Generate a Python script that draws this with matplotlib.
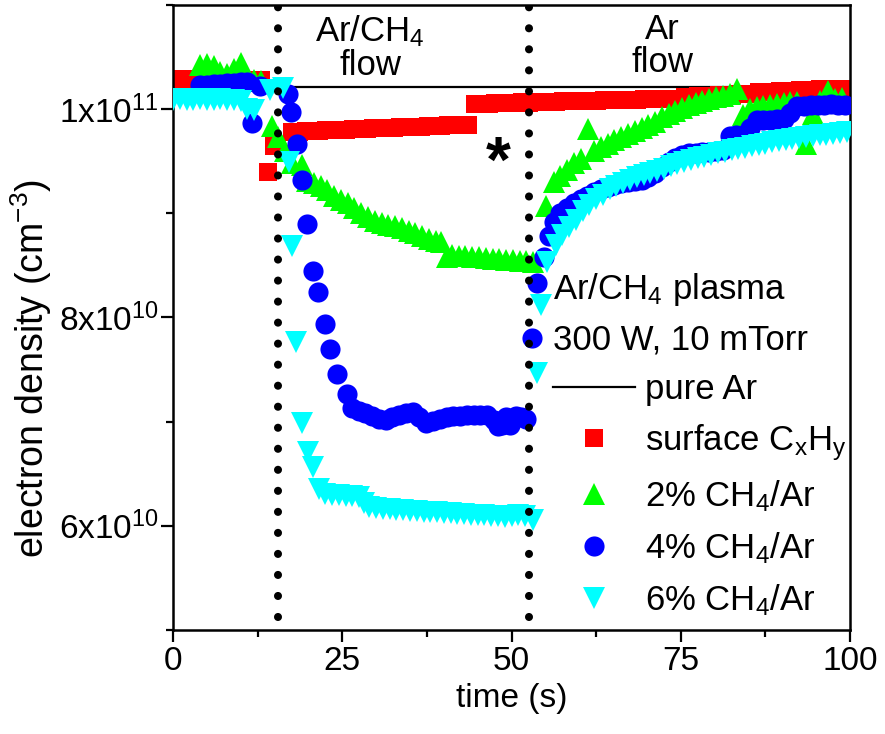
import numpy as np
import matplotlib as mpl
mpl.use('Agg')
import matplotlib.pyplot as plt
from matplotlib.lines import Line2D
from matplotlib.ticker import MultipleLocator, FuncFormatter

plt.rcParams['font.family'] = 'Liberation Sans'
plt.rcParams['mathtext.fontset'] = 'custom'
plt.rcParams['mathtext.rm'] = 'Liberation Sans'
plt.rcParams['mathtext.it'] = 'Liberation Sans'
plt.rcParams['mathtext.default'] = 'regular'

# electron density in units of 1e10 cm^-3, time in s
red_t = [0, 1, 2, 3, 4, 5, 6, 7, 8, 9, 10, 11, 12, 13, 14.0, 14.9,
         17.6, 18.6, 19.6, 20.6, 21.6, 22.6, 23.6, 24.6, 25.6, 26.6, 27.6, 28.6, 29.6, 30.6,
         31.6, 32.6, 33.6, 34.6, 35.6, 36.6, 37.6, 38.6, 39.6, 40.6, 41.6, 42.6, 43.6,
         44.6, 45.6, 46.6, 47.6, 48.6, 49.6, 50.6, 51.6, 52.6, 53.6, 54.6, 55.6, 56.6, 57.6,
         58.6, 59.6, 60.6, 61.6, 62.6, 63.6, 64.6, 65.6, 66.6, 67.6, 68.6, 69.6, 70.6, 71.6,
         72.6, 73.6, 74.6,
         75.6, 76.6, 77.6, 78.6, 79.6, 80.6, 81.6, 82.6, 83.6, 84.6, 85.6, 86.6, 87.6, 88.6,
         89.6, 90.6, 91.6, 92.6, 93.6, 94.6, 95.6, 96.6, 97.6, 98.6]
red_n = [10.29, 10.28, 10.29, 10.28, 10.28, 10.29, 10.28, 10.28, 10.27, 10.28, 10.28, 10.27, 10.28, 10.28,
         9.40, 9.65,
         9.78, 9.78, 9.79, 9.79, 9.79, 9.80, 9.80, 9.80, 9.80, 9.81, 9.81, 9.81, 9.82, 9.82,
         9.82, 9.82, 9.83, 9.83, 9.83, 9.83, 9.84, 9.84, 9.84, 9.85, 9.85, 9.85, 9.85,
         10.05, 10.05, 10.05, 10.06, 10.06, 10.06, 10.06, 10.07, 10.06, 10.07, 10.07, 10.07, 10.07, 10.08,
         10.08, 10.08, 10.08, 10.08, 10.08, 10.09, 10.09, 10.09, 10.09, 10.09, 10.09, 10.10, 10.10, 10.10,
         10.10, 10.10, 10.10,
         10.12, 10.12, 10.13, 10.13, 10.13, 10.14, 10.14, 10.14, 10.15, 10.15, 10.15, 10.16, 10.16, 10.16,
         10.17, 10.17, 10.17, 10.18, 10.18, 10.18, 10.19, 10.19, 10.19, 10.19]

green_t = [4, 5, 6, 7, 8, 9, 10, 11, 12, 13, 14.6, 15.5, 16.5, 17.6, 19.0, 19.8, 20.8, 21.8, 22.8,
           23.8, 24.8, 25.8, 26.8, 27.8, 28.8, 29.8, 30.8, 31.8, 32.8, 33.8, 34.8, 35.8, 36.8,
           37.8, 38.8, 39.6, 40.4, 41.2, 42.2, 43.2, 44.2, 45.2, 46.2, 47.2, 48.2, 49.2, 50.2,
           51.2, 52.2, 53.2, 55.1, 56.3, 57.2, 58.2, 59.2, 60.2, 61.3, 62.2, 63.2, 64.2, 65.2,
           66.2, 67.2, 68.2, 69.2, 70.2, 71.2, 72.2, 73.2, 74.2, 75.2, 76.2, 77.2, 78.2, 79.2,
           80.2, 81.2, 82.2, 83.3, 84.2, 85.2, 86.2, 87.2, 88.2, 89.2, 90.2, 91.2, 92.2, 93.5,
           94.5, 95.5, 96.8, 97.8, 98.8]
green_n = [10.42, 10.43, 10.41, 10.36, 10.34, 10.39, 10.44, 10.30, 10.28, 10.27, 9.84, 9.73, 9.60,
           9.48, 9.46, 9.31, 9.29, 9.26, 9.22, 9.17, 9.13, 9.10, 9.05, 9.00, 8.96, 8.93, 8.91,
           8.89, 8.88, 8.86, 8.83, 8.81, 8.78, 8.75, 8.73, 8.72, 8.58, 8.60, 8.59, 8.59, 8.58,
           8.58, 8.57, 8.56, 8.56, 8.55, 8.55, 8.54, 8.54, 8.53, 9.07, 9.30, 9.36, 9.42, 9.48,
           9.52, 9.81, 9.60, 9.64, 9.67, 9.70, 9.73, 9.76, 9.79, 9.82, 9.85, 9.88, 9.92, 9.95,
           9.98, 10.01, 10.04, 10.06, 10.08, 10.10, 10.12, 10.13, 10.15, 10.19, 9.94, 10.00,
           10.02, 10.03, 10.04, 10.05, 10.06, 10.07, 10.07, 9.67, 9.95, 10.08, 10.17, 10.10, 10.11]

blue_t = [4, 5, 6, 7, 8, 9, 10, 11, 11.7, 12.9, 17.0, 17.4, 18.3, 19.1, 19.8, 20.7, 21.4, 22.5,
          23.2, 24.2, 25.7, 26.4, 27.4, 28.4, 29.4, 30.4, 31.4, 32.4, 33.4, 34.4, 35.4, 36.4,
          37.4, 38.4, 39.4, 40.4, 41.4, 42.4, 43.4, 44.4, 45.4, 46.4, 47.4, 48.0, 48.6, 49.2,
          49.8, 50.6, 51.4, 52.2, 53.0, 53.8, 54.8, 55.5, 56.3, 57.2, 58.2, 59.2, 60.2, 61.2,
          62.2, 63.2, 64.2, 65.2, 66.2, 67.2, 68.2, 69.2, 70.2, 71.2, 72.2, 73.2, 74.2, 75.2,
          76.2, 77.2, 78.2, 79.2, 80.2, 81.2, 82.2, 83.2, 84.2, 85.2, 86.2, 87.2, 88.2, 89.2,
          90.2, 91.2, 92.2, 93.2, 94.2, 95.2, 96.2, 97.2, 98.2, 99.2]
blue_n = [10.23, 10.23, 10.24, 10.24, 10.25, 10.25, 10.26, 10.26, 9.87, 10.22, 10.15, 9.97, 9.67,
          9.32, 8.90, 8.45, 8.24, 7.94, 7.70, 7.46, 7.27, 7.13, 7.10, 7.08, 7.05, 7.03, 7.02,
          7.04, 7.06, 7.08, 7.09, 7.04, 6.99, 7.01, 7.03, 7.04, 7.05, 7.05, 7.06, 7.06, 7.06,
          7.06, 7.02, 6.96, 6.97, 7.04, 6.97, 7.05, 7.04, 7.03, 7.80, 8.33, 8.58, 8.78, 8.92,
          9.00, 9.05, 9.10, 9.14, 9.17, 9.20, 9.23, 9.25, 9.27, 9.29, 9.30, 9.31, 9.32, 9.35,
          9.39, 9.44, 9.49, 9.53, 9.56, 9.58, 9.58, 9.59, 9.59, 9.60, 9.61, 9.74, 9.75, 9.75,
          9.82, 9.90, 9.90, 9.90, 9.91, 9.91, 9.96, 10.03, 10.03, 10.04, 10.04, 10.04, 10.05,
          10.04, 10.04]

cyan_t = [0, 1, 2, 3, 4, 5, 6, 7, 8, 9, 10, 11.0, 12.0, 14.3, 16.2, 17.2, 17.6, 18.2, 19.1,
          20.0, 20.7, 21.6, 22.5, 23.5, 24.5, 25.5, 26.5, 27.5, 28.2, 29.0, 30, 31, 32, 33, 34,
          35, 36, 37, 38, 39, 40, 41, 42, 43, 44, 45, 46, 47, 48, 49, 50, 51, 52, 53.2, 53.8,
          54.3, 55.3, 56.5, 57.5, 58.5, 59.5, 60.5, 61.5, 62.5, 63.5, 64.5, 65.5, 66.5, 67.5,
          68.5, 69.5, 70.5, 71.5, 72.5, 73.5, 74.5, 75.5, 76.5, 77.5, 78.5, 79.5, 80.5, 81.5,
          82.5, 83.5, 84.5, 85.5, 86.5, 87.5, 88.5, 89.5, 90.5, 91.5, 92.5, 93.5, 94.5, 95.5,
          96.5, 97.5, 98.5, 99.5]
cyan_n = [10.09, 10.10, 10.09, 10.09, 10.10, 10.09, 10.09, 10.10, 10.09, 10.09, 10.08, 10.00,
          9.99, 10.18, 10.20, 9.49, 8.69, 7.76, 6.99, 6.71, 6.56, 6.35, 6.31, 6.30, 6.30, 6.29,
          6.29, 6.28, 6.22, 6.18, 6.17, 6.16, 6.16, 6.15, 6.15, 6.14, 6.14, 6.13, 6.13, 6.13,
          6.12, 6.12, 6.11, 6.11, 6.10, 6.10, 6.10, 6.09, 6.09, 6.08, 6.09, 6.10, 6.09, 6.06,
          7.47, 8.12, 8.53, 8.70, 8.79, 8.87, 8.94, 9.02, 9.08, 9.14, 9.18, 9.23, 9.26, 9.29,
          9.32, 9.35, 9.37, 9.39, 9.41, 9.43, 9.45, 9.47, 9.49, 9.51, 9.53, 9.54, 9.56, 9.58,
          9.59, 9.61, 9.62, 9.63, 9.65, 9.66, 9.67, 9.68, 9.69, 9.70, 9.71, 9.72, 9.73, 9.74,
          9.75, 9.75, 9.76, 9.77, 9.78]

pure_ar = 10.212
switch_t = [15.5, 52.6]

fig = plt.figure(figsize=(8.85, 7.34), dpi=100)
ax = fig.add_axes([0.1955, 0.1417, 0.765, 0.8515])

sc = 1e10
ax.axhline(pure_ar * sc, color='k', lw=1.6, zorder=1)
ax.plot(red_t, np.array(red_n) * sc, 's', color='#ff0000', ms=13, mew=0, zorder=2)
ax.plot(green_t, np.array(green_n) * sc, '^', color='#00ff00', ms=16, mew=0, zorder=3)
ax.plot(blue_t, np.array(blue_n) * sc, 'o', color='#0000ff', ms=14.5, mew=0, zorder=4)
ax.plot(cyan_t, np.array(cyan_n) * sc, 'v', color='#00ffff', ms=16, mew=0, zorder=5)
for xs in switch_t:
    ax.axvline(xs, color='k', lw=5.8, linestyle=(1.0, (0.01, 2.6)),
               dash_capstyle='round', zorder=6)

ax.set_xlim(0, 100)
ax.set_ylim(5e10, 1.1e11)
ax.xaxis.set_major_locator(MultipleLocator(25))
ax.xaxis.set_minor_locator(MultipleLocator(12.5))
ax.yaxis.set_major_locator(MultipleLocator(2e10))
ax.yaxis.set_minor_locator(MultipleLocator(1e10))

def sci(v, pos):
    e = int(np.floor(np.log10(v)))
    m = v / 10**e
    return r'$%dx10^{%d}$' % (round(m), e)

ax.yaxis.set_major_formatter(FuncFormatter(sci))
ax.tick_params(which='both', direction='out', width=1.6, labelsize=24)
ax.tick_params(which='major', length=8.5)
ax.tick_params(which='minor', length=5)
ax.tick_params(axis='x', pad=3)
ax.tick_params(axis='y', pad=2)
for s in ax.spines.values():
    s.set_linewidth(1.8)

ax.set_xlabel('time (s)', fontsize=24, labelpad=4)
ax.set_ylabel('electron density (cm$^{-3}$)', fontsize=27)
ax.yaxis.set_label_coords(-0.176, 0.419)

ax.text(29.1, 1.0923e11, 'Ar/CH$_4$\nflow', fontsize=25, ha='center', va='top',
        linespacing=1.0)
ax.text(72.3, 1.0923e11, 'Ar\nflow', fontsize=25, ha='center', va='top', linespacing=1.0)
ax.text(48, 9.30e10, '*', fontsize=46, ha='center', va='baseline', fontweight='bold')

handles = [Line2D([], [], color='k', lw=1.6),
           Line2D([], [], ls='', marker='s', color='#ff0000', ms=13, mew=0),
           Line2D([], [], ls='', marker='^', color='#00ff00', ms=16, mew=0),
           Line2D([], [], ls='', marker='o', color='#0000ff', ms=14.5, mew=0),
           Line2D([], [], ls='', marker='v', color='#00ffff', ms=16, mew=0)]
labels = ['pure Ar', 'surface C$_x$H$_y$', '2% CH$_4$/Ar', '4% CH$_4$/Ar', '6% CH$_4$/Ar']
leg = ax.legend(handles, labels, title='Ar/CH$_4$ plasma\n300 W, 10 mTorr',
                title_fontsize=25, fontsize=25, frameon=False, loc='upper left',
                bbox_to_anchor=(0.561, 0.574), borderpad=0, borderaxespad=0,
                handlelength=2.36, handletextpad=0.29, labelspacing=0.46, alignment='left')
leg.get_title().set_linespacing(1.6)

fig.savefig('out.png', dpi=100)
